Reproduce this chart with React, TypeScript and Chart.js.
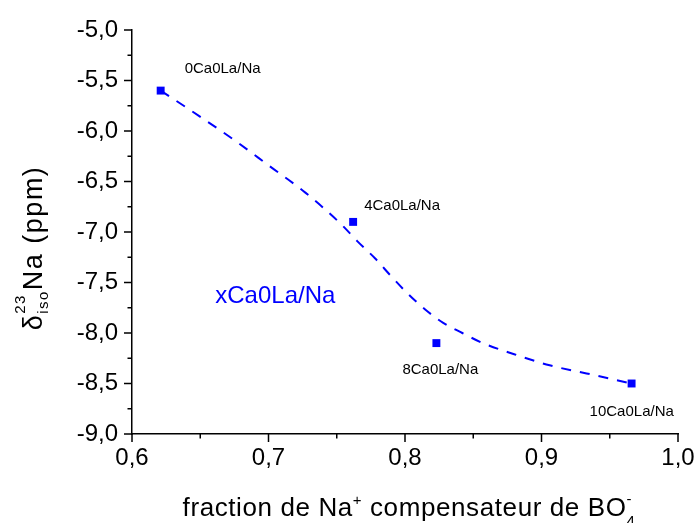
import React, { useEffect, useRef } from 'react';
import { Chart, registerables } from 'chart.js';

Chart.register(...registerables);

const FONT = "'Liberation Sans', Arial, Helvetica, sans-serif";

// measured points
const pointX = [0.621, 0.762, 0.823, 0.966];
const pointY = [-5.6, -6.9, -8.1, -8.5];
const pointLabels = ['0Ca0La/Na', '4Ca0La/Na', '8Ca0La/Na', '10Ca0La/Na'];

// dashed guide curve
const curveX = [0.621, 0.649, 0.676, 0.701, 0.727, 0.753, 0.765, 0.778, 0.79, 0.802, 0.815, 0.828, 0.842, 0.857, 0.88, 0.906, 0.933, 0.966];
const curveY = [-5.6, -5.85, -6.1, -6.35, -6.61, -6.92, -7.09, -7.26, -7.44, -7.61, -7.77, -7.9, -8.0, -8.1, -8.21, -8.32, -8.4, -8.5];

// axes
const xTickValues = [0.6, 0.7, 0.8, 0.9, 1.0];
const xMinorValues = [0.65, 0.75, 0.85, 0.95];
const yTickValues = [-9, -8.5, -8, -7.5, -7, -6.5, -6, -5.5, -5];
const yMinorValues = [-8.75, -8.25, -7.75, -7.25, -6.75, -6.25, -5.75, -5.25];

const seriesName = 'xCa0La/Na';
const seriesNameX = 0.661;
const seriesNameY = -7.64;

const BLUE = '#0000ff';

type Seg = { t: string; size: number; dy: number; stack?: boolean };

function layoutRich(ctx: CanvasRenderingContext2D, segs: Seg[], spacing: number) {
  let x = 0;
  let lastStart = 0;
  let lastW = 0;
  const items: (Seg & { x: number })[] = [];
  for (const s of segs) {
    ctx.font = `${s.size}px ${FONT}`;
    (ctx as any).letterSpacing = `${spacing}px`;
    const w = ctx.measureText(s.t).width;
    if (s.stack) {
      items.push({ ...s, x: lastStart });
      const end = Math.max(lastStart + lastW, lastStart + w);
      x = end;
      lastW = end - lastStart;
    } else {
      items.push({ ...s, x });
      lastStart = x;
      lastW = w;
      x += w;
    }
  }
  return { items, width: x };
}

function drawRich(ctx: CanvasRenderingContext2D, segs: Seg[], cx: number, baseline: number, spacing: number) {
  const { items, width } = layoutRich(ctx, segs, spacing);
  const start = cx - width / 2;
  ctx.textAlign = 'left';
  ctx.textBaseline = 'alphabetic';
  for (const it of items) {
    ctx.font = `${it.size}px ${FONT}`;
    (ctx as any).letterSpacing = `${spacing}px`;
    ctx.fillText(it.t, start + it.x, baseline + it.dy);
  }
  (ctx as any).letterSpacing = '0px';
}

const fmt = (v: number) => v.toFixed(1).replace('.', ',');

const decorPlugin = {
  id: 'decor',
  afterDraw(chart: any) {
    const { ctx, chartArea, scales } = chart;
    const xs = scales.x;
    const ys = scales.y;
    ctx.save();
    // tick marks
    ctx.strokeStyle = '#000';
    ctx.lineWidth = 1.5;
    ctx.beginPath();
    const b = chartArea.bottom;
    const l = chartArea.left;
    for (const v of xTickValues) {
      const p = xs.getPixelForValue(v);
      ctx.moveTo(p, b);
      ctx.lineTo(p, b + 8);
    }
    for (const v of xMinorValues) {
      const p = xs.getPixelForValue(v);
      ctx.moveTo(p, b);
      ctx.lineTo(p, b + 4.5);
    }
    for (const v of yTickValues) {
      const p = ys.getPixelForValue(v);
      ctx.moveTo(l, p);
      ctx.lineTo(l - 8, p);
    }
    for (const v of yMinorValues) {
      const p = ys.getPixelForValue(v);
      ctx.moveTo(l, p);
      ctx.lineTo(l - 4.5, p);
    }
    ctx.stroke();

    // point labels
    const offsets = [
      [24, -22],
      [11, -16],
      [-34, 27],
      [-42, 28],
    ];
    ctx.fillStyle = '#000';
    ctx.font = `15px ${FONT}`;
    ctx.textAlign = 'left';
    ctx.textBaseline = 'middle';
    pointLabels.forEach((lab, i) => {
      const px = xs.getPixelForValue(pointX[i]);
      const py = ys.getPixelForValue(pointY[i]);
      ctx.fillText(lab, px + offsets[i][0], py + offsets[i][1]);
    });

    // series name
    ctx.fillStyle = BLUE;
    ctx.font = `24px ${FONT}`;
    ctx.fillText(seriesName, xs.getPixelForValue(seriesNameX), ys.getPixelForValue(seriesNameY));

    // x axis title
    ctx.fillStyle = '#000';
    const cx = (chartArea.left + chartArea.right) / 2 + 4;
    drawRich(
      ctx,
      [
        { t: 'fraction de Na', size: 26, dy: 0 },
        { t: '+', size: 15, dy: -11 },
        { t: ' compensateur de BO', size: 26, dy: 0 },
        { t: '4', size: 15, dy: 10 },
        { t: '-', size: 15, dy: -12, stack: true },
      ],
      cx,
      516,
      0.6
    );

    // y axis title
    ctx.translate(42, (chartArea.top + chartArea.bottom) / 2 + 16);
    ctx.rotate(-Math.PI / 2);
    drawRich(
      ctx,
      [
        { t: 'δ', size: 27, dy: 0 },
        { t: 'iso', size: 15, dy: 6 },
        { t: '23', size: 15, dy: -17, stack: true },
        { t: 'Na (ppm)', size: 27, dy: 0 },
      ],
      0,
      0,
      1.5
    );
    ctx.restore();
  },
};

export default function App() {
  const ref = useRef<HTMLCanvasElement | null>(null);

  useEffect(() => {
    document.body.style.margin = '0';
    const canvas = ref.current;
    if (!canvas) return;
    const chart = new Chart(canvas, {
      type: 'scatter',
      data: {
        datasets: [
          {
            label: 'fit',
            data: curveX.map((x, i) => ({ x, y: curveY[i] })),
            showLine: true,
            borderColor: BLUE,
            borderWidth: 2,
            borderDash: [10, 9],
            pointRadius: 0,
            cubicInterpolationMode: 'monotone',
            fill: false,
          } as any,
          {
            label: seriesName,
            data: pointX.map((x, i) => ({ x, y: pointY[i] })),
            showLine: false,
            pointStyle: 'rect',
            pointRadius: 5.6,
            pointBorderWidth: 0,
            backgroundColor: BLUE,
            borderColor: BLUE,
          },
        ],
      },
      options: {
        animation: false,
        responsive: false,
        devicePixelRatio: 1,
        layout: { padding: { left: 0, top: 30, right: 20, bottom: 0 } },
        plugins: {
          legend: { display: false },
          tooltip: { enabled: false },
        },
        scales: {
          x: {
            type: 'linear',
            min: 0.6,
            max: 1.0,
            afterBuildTicks: (s: any) => {
              s.ticks = xTickValues.map((v) => ({ value: v }));
            },
            afterFit: (s: any) => {
              s.height = 89;
            },
            grid: { display: false, drawTicks: true, tickLength: 8 },
            border: { display: true, color: '#000', width: 1.5 },
            ticks: {
              color: '#000',
              font: { size: 24, family: FONT },
              padding: 2,
              maxRotation: 0,
              callback: (v: any) => fmt(Number(v)),
            },
          },
          y: {
            type: 'linear',
            min: -9,
            max: -5,
            afterBuildTicks: (s: any) => {
              s.ticks = yTickValues.map((v) => ({ value: v }));
            },
            afterFit: (s: any) => {
              s.width = 132;
            },
            grid: { display: false, drawTicks: true, tickLength: 8 },
            border: { display: true, color: '#000', width: 1.5 },
            ticks: {
              color: '#000',
              font: { size: 24, family: FONT },
              padding: 6,
              callback: (v: any) => fmt(Number(v)),
            },
          },
        },
      },
      plugins: [decorPlugin],
    });
    return () => chart.destroy();
  }, []);

  return (
    <div style={{ width: 698, height: 523, background: '#fff' }}>
      <canvas ref={ref} width={698} height={523} style={{ display: 'block' }} />
    </div>
  );
}
